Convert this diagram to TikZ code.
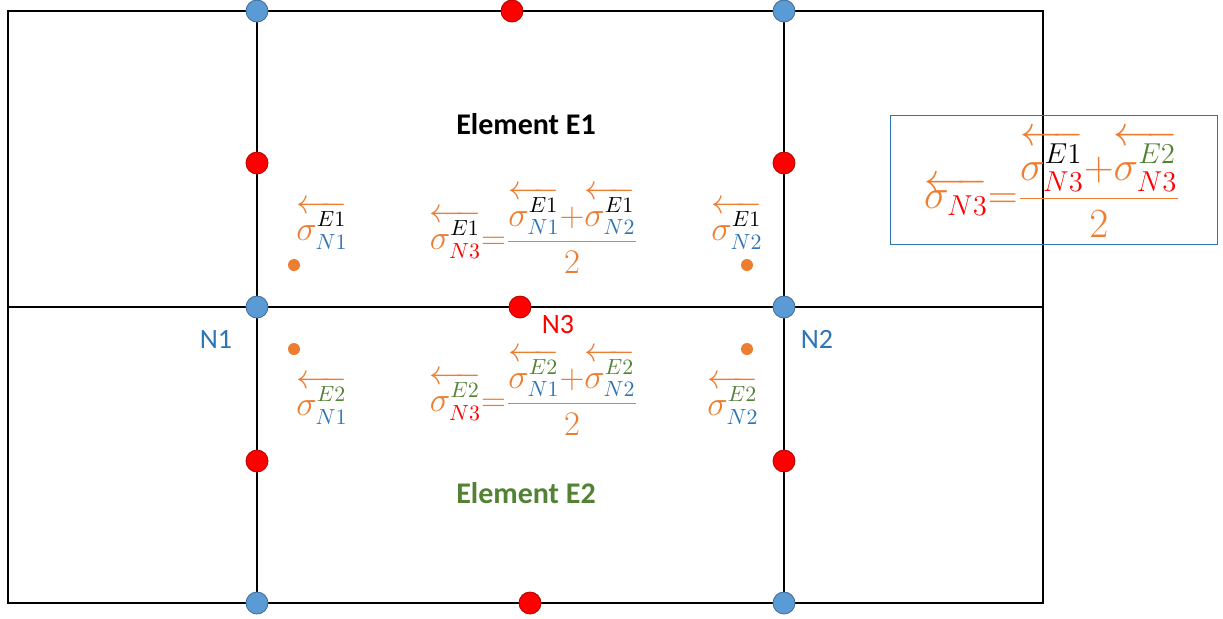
\documentclass[tikz,border=0pt]{standalone}
\usepackage{fontspec}
\setmainfont{Carlito}
\usetikzlibrary{positioning}
\definecolor{dotblue}{RGB}{91,155,213}
\definecolor{txtblue}{RGB}{46,117,182}
\definecolor{sorange}{RGB}{237,125,49}
\definecolor{egreen}{RGB}{84,130,53}
\newcommand{\sg}[4]{\overleftarrow{\sigma^{\textcolor{#1}{#2}}_{\textcolor{#3}{#4}}}}
\tikzset{
  bdot/.style={circle, fill=dotblue, draw=dotblue!70!black, minimum size=11pt, inner sep=0pt},
  rdot/.style={circle, fill=red, draw=red!70!black, minimum size=11pt, inner sep=0pt},
  odot/.style={circle, fill=sorange, minimum size=6pt, inner sep=0pt},
  frm/.style={text=sorange, font=\fontsize{16}{19}\selectfont, inner sep=1pt},
  lbl/.style={font=\fontsize{14}{16}\selectfont}
}
\begin{document}
\begin{tikzpicture}[x=0.5pt, y=-0.5pt]
    \useasboundingbox (0,0) rectangle (1223,618);

    % Mesh
    \draw[thick] (8,11) rectangle (1043,603);
    \draw[thick] (257,11) -- (257,603);
    \draw[thick] (784,11) -- (784,603);
    \draw[thick] (8,307) -- (1043,307);

    % Corner nodes
    \foreach \x/\y in {257/11, 784/11, 257/307, 784/307, 257/603, 784/603}
        \node[bdot] at (\x,\y) {};
    % Mid nodes
    \foreach \x/\y in {512/11, 257/163, 784/163, 520/307, 257/461, 784/461, 530/603}
        \node[rdot] at (\x,\y) {};
    % Gauss points
    \foreach \x/\y in {294/265, 747/265, 294/349, 747/349}
        \node[odot] at (\x,\y) {};

    \node[lbl, font=\bfseries\fontsize{15}{17}\selectfont] (e1) at (526,124) {Element E1};
    \node[lbl, font=\bfseries\fontsize{15}{17}\selectfont, text=egreen] (e2) at (526,493) {Element E2};
    \node[lbl, text=txtblue] (n1) at (216,339) {N1};
    \node[lbl, text=txtblue] (n2) at (817,339) {N2};
    \node[lbl, text=red] (n3) at (558,325) {N3};

    % Element E1
    \node[frm] (s11) at (322,225) {$\displaystyle\sg{black}{E1}{txtblue}{N1}$};
    \node[frm] (s12) at (737,225) {$\displaystyle\sg{black}{E1}{txtblue}{N2}$};
    \node[frm] (s13) at (534,230) {$\displaystyle\sg{black}{E1}{red}{N3}{=}\frac{\sg{black}{E1}{txtblue}{N1}{+}\sg{black}{E1}{txtblue}{N2}}{2}$};

    % Element E2
    \node[frm] (s21) at (322,400) {$\displaystyle\sg{egreen}{E2}{txtblue}{N1}$};
    \node[frm] (s22) at (733,400) {$\displaystyle\sg{egreen}{E2}{txtblue}{N2}$};
    \node[frm] (s23) at (534,392) {$\displaystyle\sg{egreen}{E2}{red}{N3}{=}\frac{\sg{egreen}{E2}{txtblue}{N1}{+}\sg{egreen}{E2}{txtblue}{N2}}{2}$};

    % Average
    \draw[txtblue, thin] (890,115) rectangle (1217,244);
    \node[frm, font=\fontsize{20}{24}\selectfont] (avg) at (1052,184)
        {$\displaystyle\overleftarrow{\sigma_{\textcolor{red}{N3}}}{=}\frac{\sg{black}{E1}{red}{N3}{+}\sg{egreen}{E2}{red}{N3}}{2}$};
\end{tikzpicture}
\end{document}
